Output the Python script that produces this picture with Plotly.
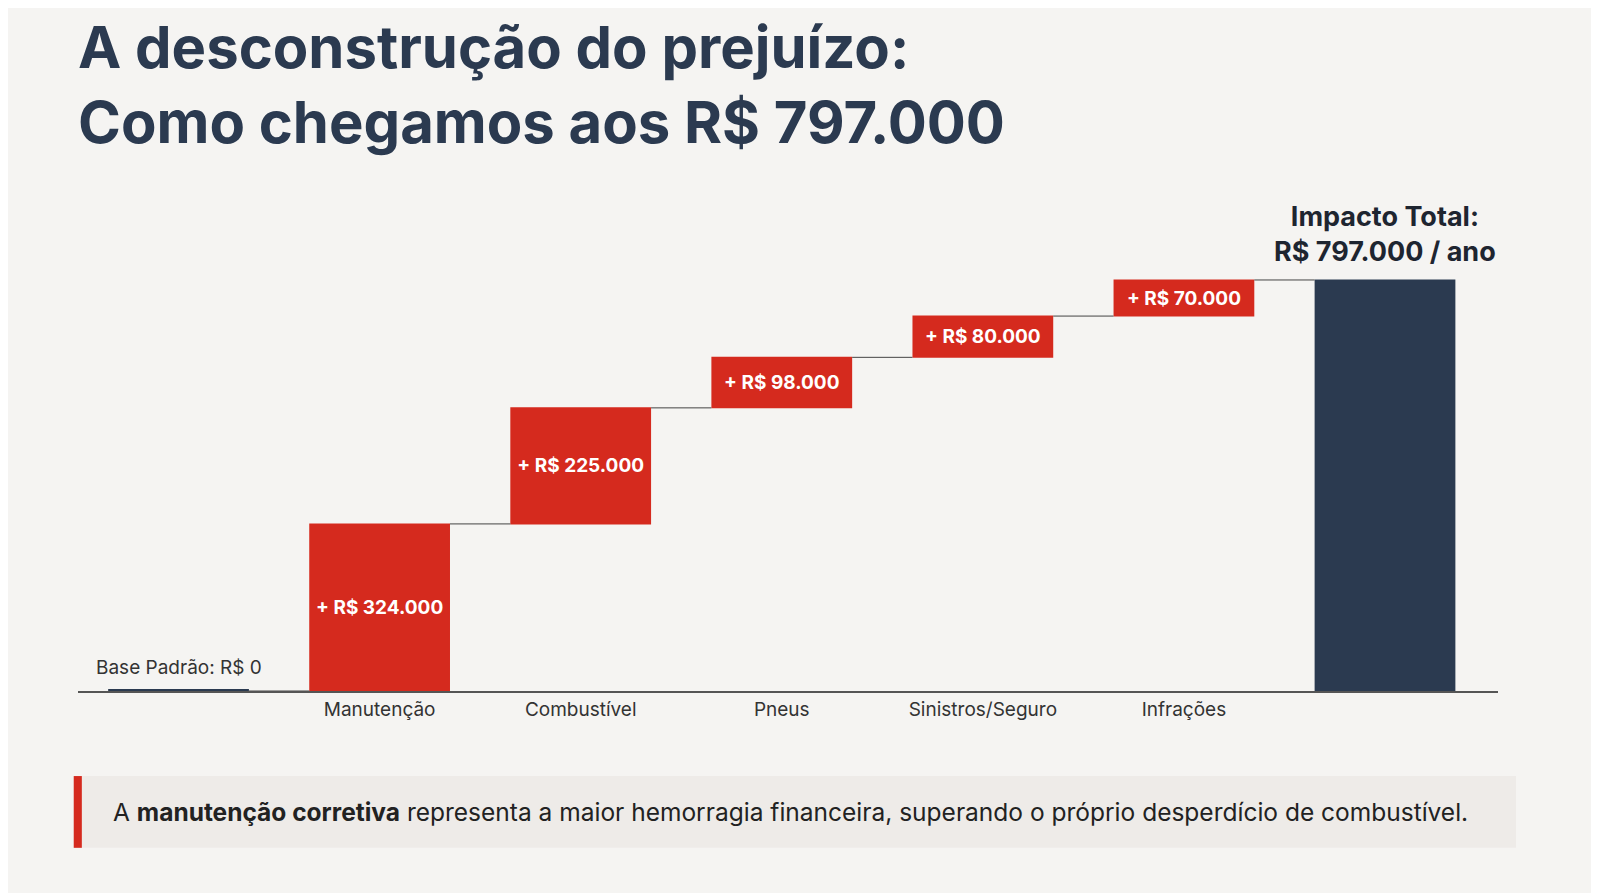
import plotly.graph_objects as go

categories = ["Base", "Manutenção", "Combustível", "Pneus", "Sinistros/Seguro", "Infrações", "Total"]
tick_labels = ["", "Manutenção", "Combustível", "Pneus", "Sinistros/Seguro", "Infrações", ""]
values = [0, 324000, 225000, 98000, 80000, 70000, 797000]
measures = ["absolute", "relative", "relative", "relative", "relative", "relative", "total"]

def fmt(v):
    return "R$ " + f"{v:,}".replace(",", ".")

texts = [""] + ["<b>+ " + fmt(v) + "</b>" for v in values[1:6]] + [""]

RED = "#D52A1E"
NAVY = "#2B3A50"
BG = "#F5F4F2"

fig = go.Figure(go.Waterfall(
    x=categories, y=values, measure=measures,
    text=texts, textposition="inside", insidetextanchor="middle",
    insidetextfont=dict(color="white", size=19, family="Inter"),
    textfont=dict(color="white", size=19, family="Inter"),
    increasing=dict(marker=dict(color=RED)),
    totals=dict(marker=dict(color=NAVY)),
    decreasing=dict(marker=dict(color=RED)),
    connector=dict(mode="between", line=dict(color="#444", width=1)),
    width=0.7, cliponaxis=False,
))

fig.update_layout(
    width=1599, height=893,
    paper_bgcolor=BG, plot_bgcolor=BG,
    margin=dict(l=70, r=109, t=240, b=210),
    showlegend=False,
    font=dict(family="Inter", color="#2B3A50"),
    title=dict(text="<b>A desconstrução do prejuízo:<br>Como chegamos aos R$ 797.000</b>",
               x=0, xref="paper", xanchor="left", y=1-60/893, yanchor="top",
               font=dict(size=58, color="#2B3A50", family="Inter")),
    xaxis=dict(type="category", tickvals=categories, ticktext=tick_labels,
               showgrid=False, showline=True, linecolor="#555", linewidth=1.5,
               tickfont=dict(size=19, color="#333"), ticks="", ticklen=0),
    yaxis=dict(range=[0, 859000], visible=False, showgrid=False),
)

fig.add_shape(type="line", xref="x", yref="y", x0=-0.35, x1=0.35, y0=0, y1=0,
              line=dict(color=NAVY, width=4))
fig.add_annotation(x=0, y=0, xref="x", yref="y", yshift=10, yanchor="bottom",
                   text="Base Padrão: R$ 0", showarrow=False,
                   font=dict(size=19, color="#333"))
fig.add_annotation(x="Total", y=values[6], xref="x", yref="y", yshift=10, yanchor="bottom",
                   text="<b>Impacto Total:<br>" + fmt(values[6]) + " / ano</b>", showarrow=False,
                   font=dict(size=27, color="#1E2530"))

# callout box
fig.add_shape(type="rect", xref="paper", yref="paper", x0=-0.003, x1=1.0127, y0=-0.354, y1=-0.192,
              fillcolor="#EEEBE8", line=dict(width=0), layer="below")
fig.add_shape(type="rect", xref="paper", yref="paper", x0=-0.003, x1=0.0027, y0=-0.354, y1=-0.192,
              fillcolor=RED, line=dict(width=0))
fig.add_annotation(xref="paper", yref="paper", x=0.023, y=-0.273, xanchor="left", yanchor="middle",
                   showarrow=False,
                   text="A <b>manutenção corretiva</b> representa a maior hemorragia financeira, superando o próprio desperdício de combustível.",
                   font=dict(size=24.5, color="#222"))

fig.write_html("out.html")
